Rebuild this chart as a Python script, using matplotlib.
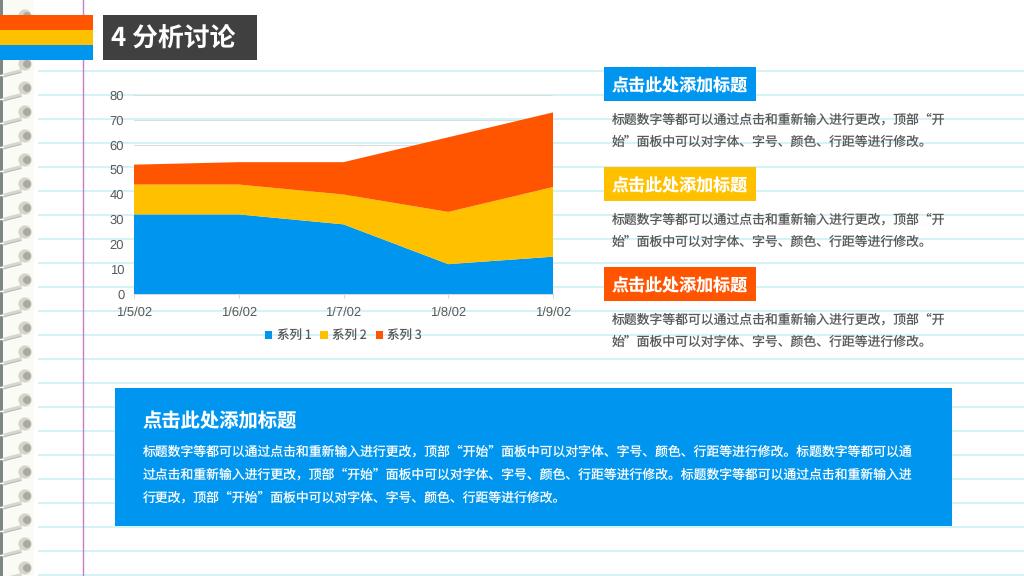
import matplotlib
matplotlib.use("Agg")
import matplotlib.pyplot as plt
from matplotlib.patches import Rectangle, Circle, Polygon

plt.rcParams['font.family'] = ['Noto Sans CJK SC', 'DejaVu Sans']
plt.rcParams['text.hinting'] = 'no_hinting'
plt.rcParams['text.hinting_factor'] = 1

dates = ['1/5/02', '1/6/02', '1/7/02', '1/8/02', '1/9/02']
series_names = ['系列 1', '系列 2', '系列 3']
series1 = [32, 32, 28, 12, 15]
series2 = [12, 12, 12, 21, 28]
series3 = [8, 9, 13, 30, 30]
y_ticks = [0, 10, 20, 30, 40, 50, 60, 70, 80]

BLUE, YELLOW, ORANGE = '#0096F0', '#FFC000', '#FF5500'
GREY = '#595959'

title = '4 分析讨论'
heading = '点击此处添加标题'
body_lines = ['标题数字等都可以通过点击和重新输入进行更改，顶部“开',
              '始”面板中可以对字体、字号、颜色、行距等进行修改。']
box_lines = ['标题数字等都可以通过点击和重新输入进行更改，顶部“开始”面板中可以对字体、字号、颜色、行距等进行修改。标题数字等都可以通',
             '过点击和重新输入进行更改，顶部“开始”面板中可以对字体、字号、颜色、行距等进行修改。标题数字等都可以通过点击和重新输入进',
             '行更改，顶部“开始”面板中可以对字体、字号、颜色、行距等进行修改。']

W, H = 1024, 576
fig = plt.figure(figsize=(W / 100, H / 100), dpi=100, facecolor='white')
bg = fig.add_axes([0, 0, 1, 1])
bg.set_xlim(0, W); bg.set_ylim(H, 0); bg.axis('off')

# ruled paper
for y in range(71, 576, 24):
    bg.plot([38, W], [y, y], color='#C8F0F2', lw=1.1, zorder=1, solid_capstyle='butt')
bg.plot([83, 83], [0, H], color='#C77BD0', lw=1.0, zorder=2)

# spiral binding
bg.add_patch(Rectangle((0, 0), 34, H, color='#FBFBF6', lw=0, zorder=1.5))
bg.add_patch(Rectangle((0, 0), 2.5, H, color='#7F8784', lw=0, zorder=2))
for y in range(16, 576, 24):
    bg.add_patch(Polygon([(2, y + 10), (21, y + 5), (22, y + 8), (3, y + 13)],
                         closed=True, fc='#D6D7D2', ec='none', zorder=3))
    bg.plot([3, 21], [y + 13, y + 8.5], color='#B5B7B3', lw=.7, zorder=3)
    bg.plot([0, 3], [y + 11, y + 11], color='white', lw=1, zorder=4)
    bg.add_patch(Circle((25, y), 6.6, fc='#D4D4CB', ec='none', zorder=3))
    bg.add_patch(Circle((27, y), 4.0, fc='#ABABA2', ec='none', zorder=3))

# header
for y0, c in [(15, ORANGE), (30, YELLOW), (45, BLUE)]:
    bg.add_patch(Rectangle((0, y0), 93, 15, color=c, lw=0, zorder=5))
bg.add_patch(Rectangle((103, 15), 154, 45, color='#404040', lw=0, zorder=5))
bg.text(111, 38.5, title, color='white', fontsize=18.6, fontweight='bold',
        va='center', ha='left', zorder=6)

# side blocks
for y0, c in [(67, BLUE), (167, YELLOW), (267, ORANGE)]:
    bg.add_patch(Rectangle((604, y0), 152, 34, color=c, lw=0, zorder=5))
    bg.text(611.5, y0 + 19, heading, color='white', fontsize=12.25, fontweight='bold',
            va='center', ha='left', zorder=6)
    for i, line in enumerate(body_lines):
        bg.text(612, y0 + 52.5 + 23 * i, line, color=GREY, fontsize=9.24,
                va='center', ha='left', zorder=6)

# bottom box
bg.add_patch(Rectangle((115, 388), 837, 138, color=BLUE, lw=0, zorder=5))
bg.text(143, 421, heading, color='white', fontsize=13.9, fontweight='bold',
        va='center', ha='left', zorder=6)
for i, line in enumerate(box_lines):
    bg.text(143, 452 + 23 * i, line, color='white', fontsize=9.24,
            va='center', ha='left', zorder=6)

# chart
x0, x1, ytop, ybot = 134, 553, 95, 294
ax = fig.add_axes([x0 / W, 1 - ybot / H, (x1 - x0) / W, (ybot - ytop) / H], zorder=3)
ax.patch.set_alpha(0)
xs = list(range(len(dates)))
ax.set_xlim(0, len(dates) - 1); ax.set_ylim(0, 80)
ax.stackplot(xs, series1, series2, series3, colors=[BLUE, YELLOW, ORANGE],
             labels=series_names, lw=0, zorder=3)
ax.set_yticks(y_ticks); ax.set_xticks(xs); ax.set_xticklabels(dates)
ax.grid(axis='y', color='#DDDDDD', lw=.8, zorder=1)
ax.set_axisbelow(True)
for s in ['top', 'right', 'left']:
    ax.spines[s].set_visible(False)
ax.spines['bottom'].set_color('#D9D9D9')
ax.tick_params(axis='y', length=0, labelsize=9.2, labelcolor=GREY, pad=7)
ax.tick_params(axis='x', length=3, color='#D9D9D9', labelsize=9.2, labelcolor=GREY, pad=6)
for t in ax.get_xticklabels() + ax.get_yticklabels():
    t.set_fontfamily(['Liberation Sans', 'DejaVu Sans'])
leg = ax.legend(loc='upper center', bbox_to_anchor=((343.5 - x0) / (x1 - x0), -(329 - ybot) / (ybot - ytop)),
                ncol=3, frameon=False, fontsize=9.0, labelcolor=GREY, handlelength=.6,
                handleheight=.6, handletextpad=.35, columnspacing=.7, borderpad=0, borderaxespad=0)
fig.savefig('out.png', dpi=100)
